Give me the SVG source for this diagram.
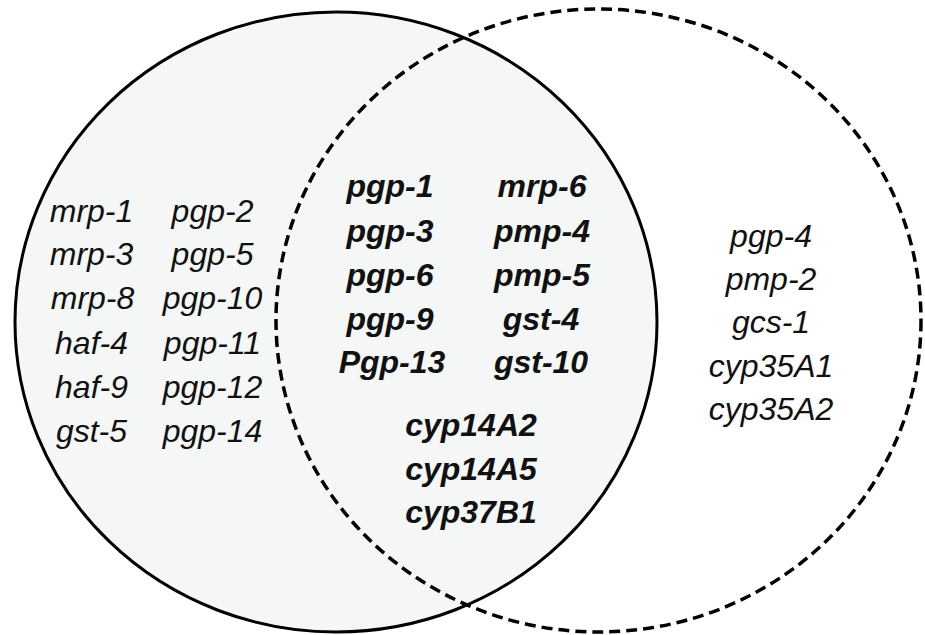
<svg xmlns="http://www.w3.org/2000/svg" width="925" height="635" viewBox="0 0 925 635">
  <style>
    .lbl { font-family: "Liberation Sans", Arial, sans-serif; font-style: italic; font-size: 32px; fill: #111; text-anchor: middle; }
    .b { font-weight: bold; }
    .solid { fill: #f5f7f6; stroke: #000; stroke-width: 3; }
    .dash { fill: none; stroke: #000; stroke-width: 3.5; stroke-dasharray: 11 6; }
  </style>
  <rect width="925" height="635" fill="#fff"/>
  <g id="set-left">
    <ellipse class="solid" cx="336" cy="322" rx="321" ry="310"/>
  </g>
  <g id="set-right">
    <ellipse class="dash" cx="598.5" cy="320.5" rx="322.5" ry="311.5"/>
  </g>
  <g id="left-only">
    <text class="lbl" x="91.5" y="222">mrp-1</text>
    <text class="lbl" x="91.5" y="265">mrp-3</text>
    <text class="lbl" x="92.5" y="309">mrp-8</text>
    <text class="lbl" x="91.5" y="354">haf-4</text>
    <text class="lbl" x="91.5" y="398">haf-9</text>
    <text class="lbl" x="91.5" y="442">gst-5</text>
    <text class="lbl" x="212.5" y="222">pgp-2</text>
    <text class="lbl" x="212.5" y="265">pgp-5</text>
    <text class="lbl" x="212.5" y="309">pgp-10</text>
    <text class="lbl" x="212.5" y="354">pgp-11</text>
    <text class="lbl" x="212.5" y="398">pgp-12</text>
    <text class="lbl" x="212.5" y="442">pgp-14</text>
  </g>
  <g id="shared">
    <text class="lbl b" x="390" y="197">pgp-1</text>
    <text class="lbl b" x="390" y="242">pgp-3</text>
    <text class="lbl b" x="390" y="286">pgp-6</text>
    <text class="lbl b" x="390" y="330">pgp-9</text>
    <text class="lbl b" x="392" y="373">Pgp-13</text>
    <text class="lbl b" x="542" y="197">mrp-6</text>
    <text class="lbl b" x="542" y="242">pmp-4</text>
    <text class="lbl b" x="542" y="286">pmp-5</text>
    <text class="lbl b" x="541" y="330">gst-4</text>
    <text class="lbl b" x="541" y="373">gst-10</text>
    <text class="lbl b" x="471" y="436">cyp14A2</text>
    <text class="lbl b" x="471" y="480">cyp14A5</text>
    <text class="lbl b" x="471" y="523">cyp37B1</text>
  </g>
  <g id="right-only">
    <text class="lbl" x="771" y="247">pgp-4</text>
    <text class="lbl" x="771" y="290">pmp-2</text>
    <text class="lbl" x="771" y="333">gcs-1</text>
    <text class="lbl" x="771" y="377">cyp35A1</text>
    <text class="lbl" x="771" y="420">cyp35A2</text>
  </g>
</svg>
